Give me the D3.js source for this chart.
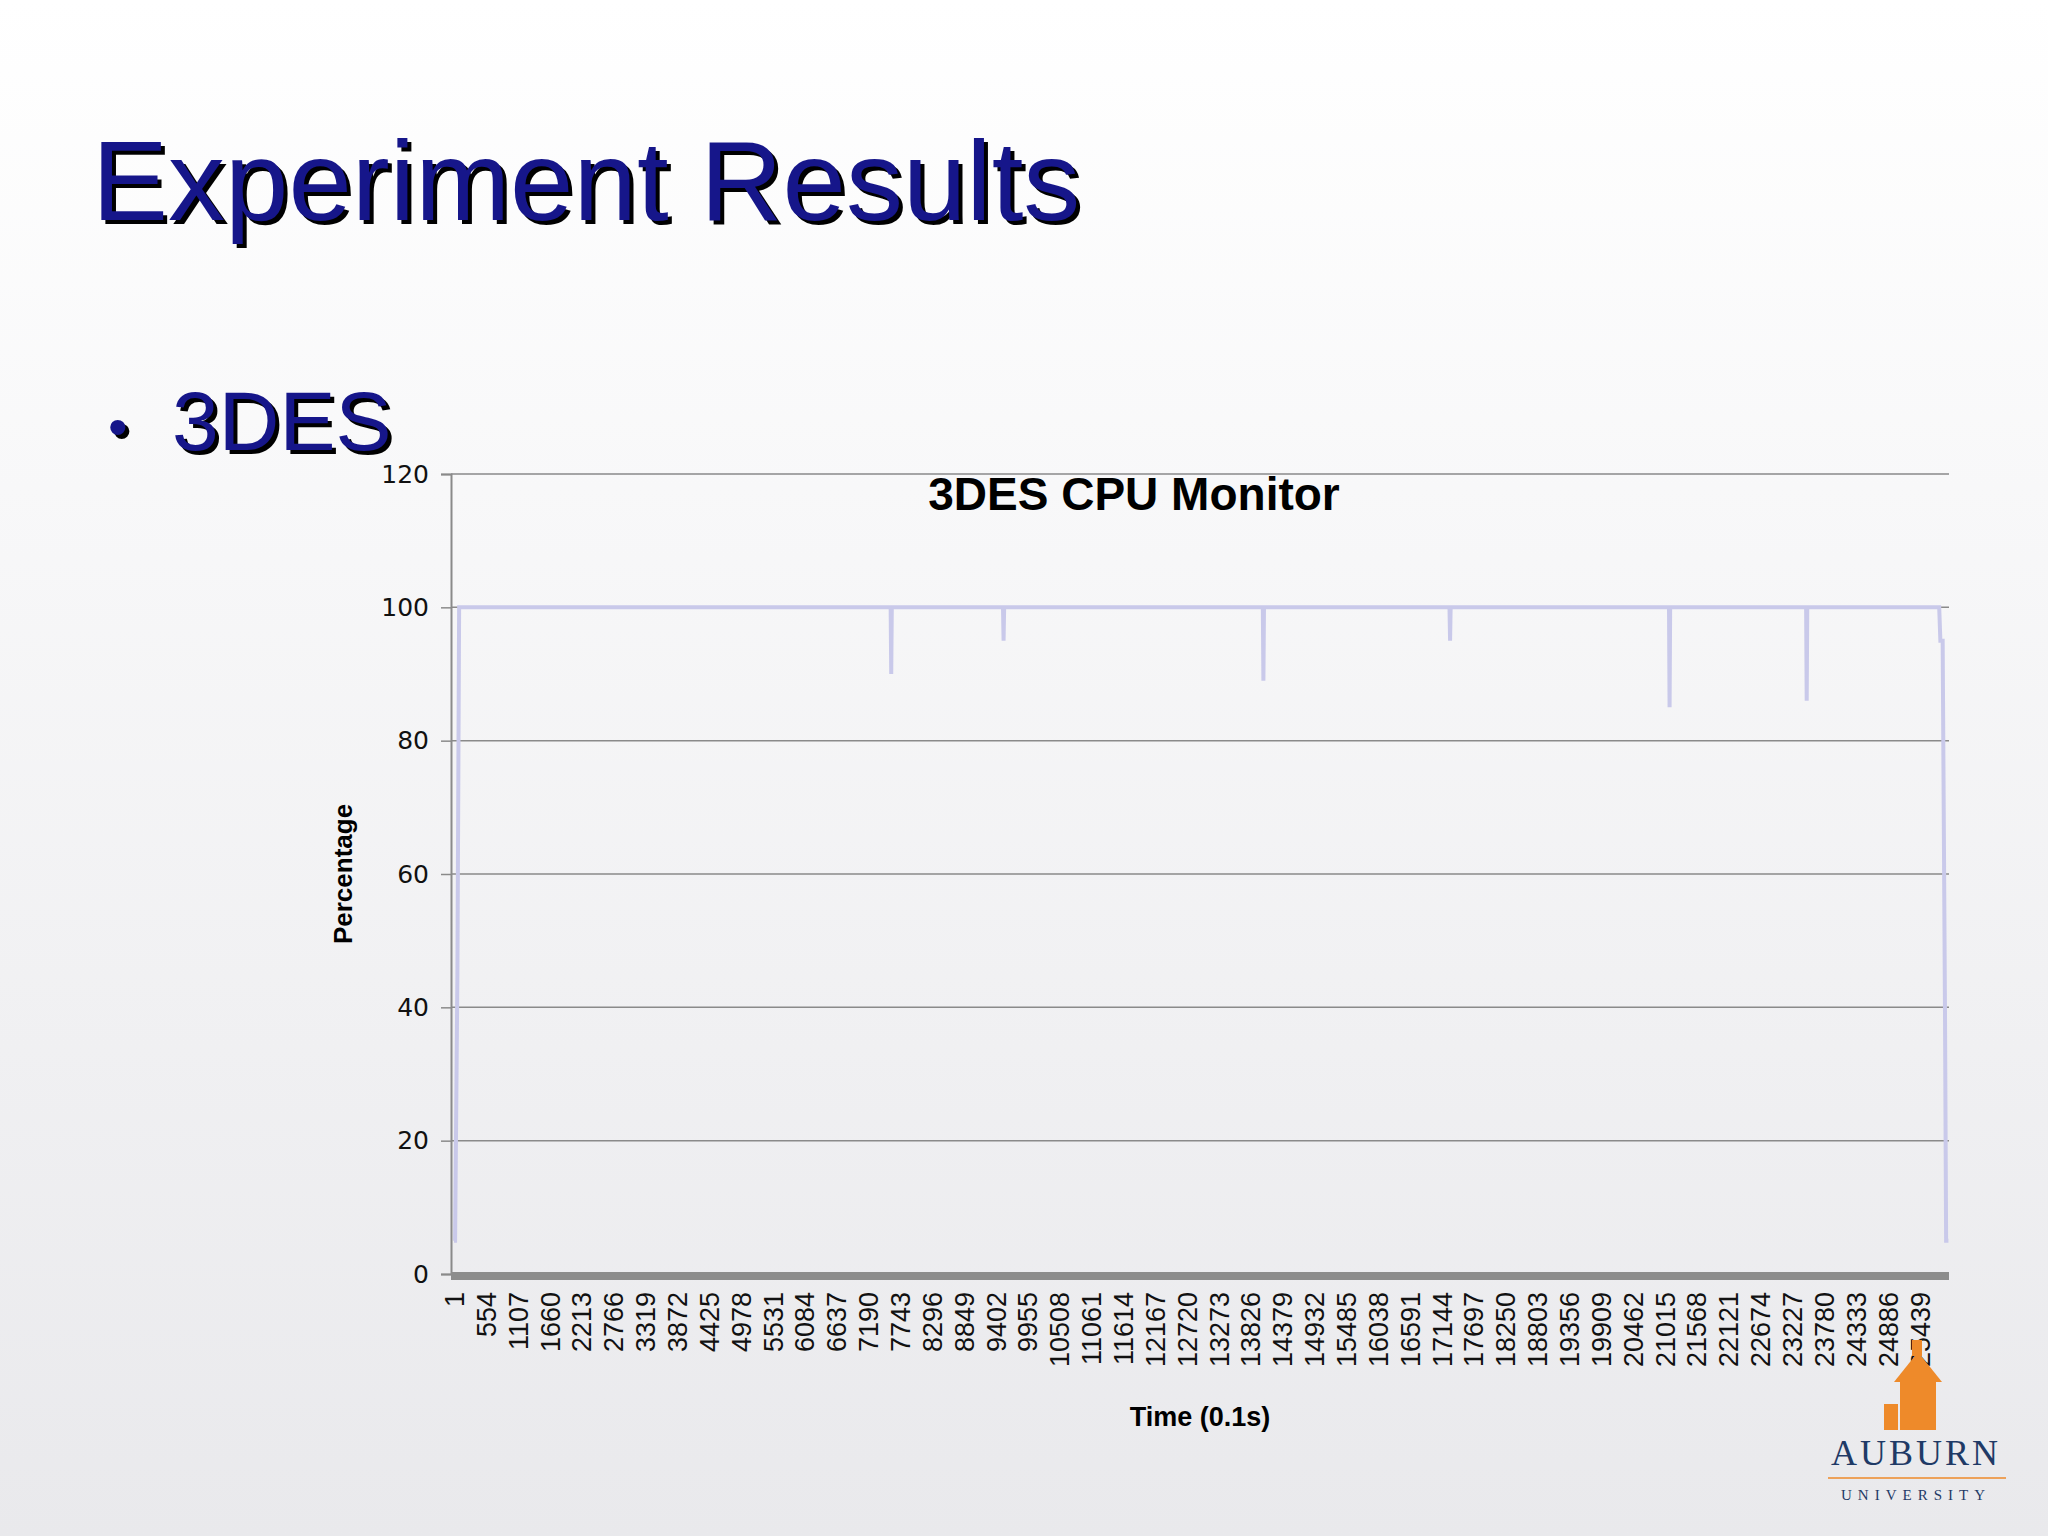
<!DOCTYPE html>
<html><head><meta charset="utf-8">
<script src="https://cdn.jsdelivr.net/npm/d3@7"></script>
<style>body{margin:0;}svg{display:block;}</style>
</head><body>
<script>
// sample index (0.1s) and CPU percentage at key points of the trace
const times = [1, 20, 60, 90, 7580, 7590, 7600, 9530, 9540, 9550, 14040, 14050, 14060,
  17280, 17290, 17300, 21090, 21100, 21110, 23470, 23480, 23490, 25780, 25800, 25840, 25880, 25900, 25940];
const values = [5, 5, 45, 100, 100, 90, 100, 100, 95, 100, 100, 89, 100,
  100, 95, 100, 100, 85, 100, 100, 86, 100, 100, 95, 95, 40, 5, 5];
const yTicks = [0, 20, 40, 60, 80, 100, 120];
const xTickLabels = d3.range(0, 47).map(i => 1 + i * 553);

const W = 2048, H = 1536;
const svg = d3.select("body").append("svg").attr("width", W).attr("height", H);

const defs = svg.append("defs");
const bg = defs.append("linearGradient").attr("id", "bg").attr("x1", 0).attr("y1", 0).attr("x2", 0).attr("y2", 1);
bg.append("stop").attr("offset", "0%").attr("stop-color", "#ffffff");
bg.append("stop").attr("offset", "100%").attr("stop-color", "#e9e9ec");
svg.append("rect").attr("width", W).attr("height", H).attr("fill", "url(#bg)");

// slide title with shadow
function shadowText(x, y, size, txt) {
  svg.append("text").attr("x", x + 4).attr("y", y + 4).attr("font-family", "Liberation Sans, Arial")
    .attr("font-size", size).attr("fill", "#000").text(txt);
  svg.append("text").attr("x", x).attr("y", y).attr("font-family", "Liberation Sans, Arial")
    .attr("font-size", size).attr("fill", "#16168a").text(txt);
}
shadowText(92, 220, 114, "Experiment Results");
shadowText(108, 446, 56, "•");
shadowText(172, 450, 84, "3DES");

const m = {left: 451, right: 1949, top: 474, bottom: 1274};
const x = d3.scaleLinear().domain([1, 25950]).range([m.left + 3, m.right]);
const y = d3.scaleLinear().domain([0, 120]).range([m.bottom, m.top]);

// gridlines
svg.append("g").selectAll("line").data(yTicks.filter(d => d > 0)).join("line")
  .attr("x1", m.left).attr("x2", m.right).attr("y1", d => y(d)).attr("y2", d => y(d))
  .attr("stroke", "#8a8a8a").attr("stroke-width", 1.5);

const yAxis = svg.append("g").attr("transform", `translate(${m.left},0)`)
  .call(d3.axisLeft(y).tickValues(yTicks).tickSize(10).tickPadding(12));
yAxis.select(".domain").attr("stroke", "#8a8a8a").attr("stroke-width", 2);
yAxis.selectAll(".tick line").attr("stroke", "#8a8a8a").attr("stroke-width", 1.5);
yAxis.selectAll("text").attr("font-family", "DejaVu Sans, Arial").attr("font-size", 25).attr("fill", "#111");

// data line
svg.append("path").datum(times.map((t, i) => [t, values[i]]))
  .attr("d", d3.line().x(d => x(d[0])).y(d => y(d[1])))
  .attr("fill", "none").attr("stroke", "#c9c9ea").attr("stroke-width", 4);

// x axis: thick bar and rotated labels
const xAxis = svg.append("g").attr("transform", `translate(0,${m.bottom})`)
  .call(d3.axisBottom(x).tickValues(xTickLabels).tickFormat(d3.format("d")).tickSize(0).tickPadding(0));
xAxis.select(".domain").remove();
svg.append("rect").attr("x", m.left).attr("y", m.bottom - 2).attr("width", m.right - m.left).attr("height", 8).attr("fill", "#8c8c8c");
xAxis.selectAll("text").attr("font-family", "Liberation Sans, Arial").attr("font-size", 27).attr("fill", "#111")
  .attr("text-anchor", "end").attr("dy", "0.35em")
  .attr("transform", "translate(0,18) rotate(-90)");

svg.append("text").attr("x", 1134).attr("y", 510).attr("text-anchor", "middle")
  .attr("font-family", "Liberation Sans, Arial").attr("font-weight", "bold").attr("font-size", 46).text("3DES CPU Monitor");
svg.append("text").attr("transform", "translate(352,874) rotate(-90)").attr("text-anchor", "middle")
  .attr("font-family", "Liberation Sans, Arial").attr("font-weight", "bold").attr("font-size", 26).text("Percentage");
svg.append("text").attr("x", 1200).attr("y", 1426).attr("text-anchor", "middle")
  .attr("font-family", "Liberation Sans, Arial").attr("font-weight", "bold").attr("font-size", 27).text("Time (0.1s)");

// logo
const lg = svg.append("g").attr("fill", "#ee8a2a");
lg.append("rect").attr("x", 1900).attr("y", 1380).attr("width", 36).attr("height", 50);
lg.append("path").attr("d", "M1894,1382 L1918,1352 L1942,1382 Z");
lg.append("rect").attr("x", 1912).attr("y", 1340).attr("width", 10).attr("height", 16);
lg.append("rect").attr("x", 1884).attr("y", 1404).attr("width", 14).attr("height", 26);
svg.append("text").attr("x", 1916).attr("y", 1465).attr("text-anchor", "middle")
  .attr("font-family", "Liberation Serif, serif").attr("font-size", 36).attr("letter-spacing", 3).attr("fill", "#1f3a66").text("AUBURN");
svg.append("line").attr("x1", 1828).attr("x2", 2006).attr("y1", 1478).attr("y2", 1478).attr("stroke", "#ee8a2a").attr("stroke-width", 1.5);
svg.append("text").attr("x", 1916).attr("y", 1500).attr("text-anchor", "middle")
  .attr("font-family", "Liberation Serif, serif").attr("font-size", 15).attr("letter-spacing", 6).attr("fill", "#1f3a66").text("UNIVERSITY");
</script>
</body></html>
